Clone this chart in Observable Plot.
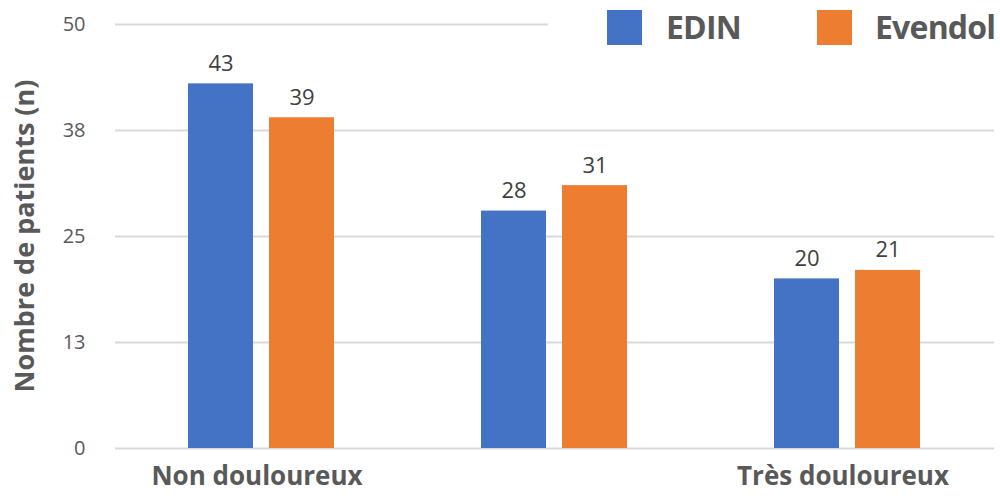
<!DOCTYPE html>
<html>
<head>
<meta charset="utf-8">
<script src="https://cdn.jsdelivr.net/npm/d3@7"></script>
<script src="https://cdn.jsdelivr.net/npm/@observablehq/plot@0.6"></script>
<style>
  html, body { margin: 0; padding: 0; background: #fff; }
  #wrap { position: relative; width: 1000px; height: 499px; font-family: "Open Sans", sans-serif; }
  #ytitle { position: absolute; left: 23px; top: 236px; transform: translate(-50%, -50%) rotate(-90deg);
    white-space: nowrap; font-weight: 700; font-size: 27px; color: #595959; }
  #legend { position: absolute; left: 548px; top: 0; width: 452px; height: 52px; background: #fff; }
  .sw { position: absolute; top: 10px; width: 35px; height: 35px; }
  .lt { position: absolute; top: 5px; line-height: 44px; font-size: 32px; font-weight: 700; color: #595959; white-space: nowrap; letter-spacing: -0.8px; }
</style>
</head>
<body>
<div id="wrap">
  <div id="chart"></div>
  <div id="ytitle"></div>
  <div id="legend"></div>
</div>
<script>
const categories = ["Non douloureux", "", "Très douloureux"];
const series = ["EDIN", "Evendol"];
const edinValues = [43, 28, 20];
const evendolValues = [39, 31, 21];
const seriesColors = ["#4472C4", "#ED7D31"];
const yTicks = [0, 12.5, 25, 37.5, 50];
const yTickLabels = ["0", "13", "25", "38", "50"];
const yTitle = "Nombre de patients (n)";

const data = [];
categories.forEach((c, i) => {
  data.push({cat: c, series: series[0], value: edinValues[i]});
  data.push({cat: c, series: series[1], value: evendolValues[i]});
});

const chart = Plot.plot({
  width: 1000,
  height: 499,
  marginLeft: 114,
  marginRight: 6,
  marginTop: 24,
  marginBottom: 51,
  style: {fontFamily: "'Open Sans', sans-serif", fontSize: "20px", color: "#595959", background: "#fff"},
  fx: {domain: categories, padding: 0, axis: null},
  x: {domain: series, paddingInner: 0.196, paddingOuter: 0.898, axis: null},
  y: {domain: [0, 50], ticks: yTicks, tickFormat: (d) => yTickLabels[yTicks.indexOf(d)], tickSize: 0, tickPadding: 30, label: null},
  color: {domain: series, range: seriesColors},
  marks: [
    Plot.ruleY(yTicks, {stroke: "#d9d9d9", strokeWidth: 2}),
    Plot.barY(data, {fx: "cat", x: "series", y: "value", fill: "series"}),
    Plot.text(data, {fx: "cat", x: "series", y: "value", text: (d) => String(d.value), dy: -20, fontSize: 22, fill: "#404040"}),
    Plot.text(categories, {fx: (d) => d, text: (d) => d, frameAnchor: "bottom", dx: -5, dy: 36, fontSize: 26, fontWeight: "bold", fill: "#595959"})
  ]
});
document.getElementById("chart").appendChild(chart);
document.getElementById("ytitle").textContent = yTitle;

const legend = document.getElementById("legend");
const legendPos = [{sw: 59, lt: 118}, {sw: 269, lt: 327}];
series.forEach((s, i) => {
  const sw = document.createElement("div");
  sw.className = "sw";
  sw.style.left = legendPos[i].sw + "px";
  sw.style.background = seriesColors[i];
  legend.appendChild(sw);
  const lt = document.createElement("div");
  lt.className = "lt";
  lt.style.left = legendPos[i].lt + "px";
  lt.textContent = s;
  legend.appendChild(lt);
});
</script>
</body>
</html>
